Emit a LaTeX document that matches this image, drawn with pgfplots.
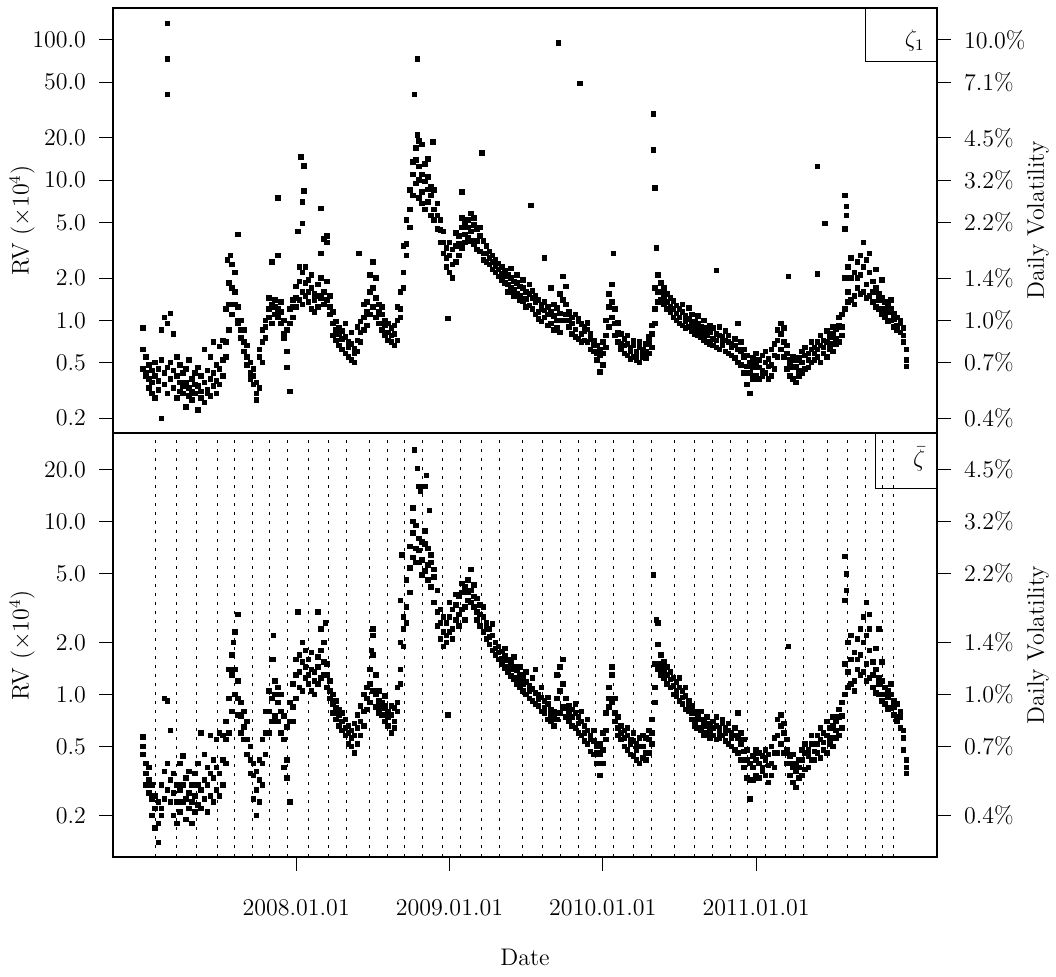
\documentclass[border=0pt]{standalone}
\usepackage{pgfplots}
\pgfplotsset{compat=1.18}
\usepackage{pgfplotstable}

\pgfplotstableread{
t a b c
2007.00 0.62 0.45 0.88
2007.02 0.40 0.55 0.42
2007.04 0.38 0.48 0.33
2007.06 0.30 0.44 0.36
2007.08 0.28 0.40 0.50
2007.10 0.32 0.37 0.45
2007.12 0.20 0.52 0.85
2007.14 0.42 0.35 1.05
2007.16 0.30 0.46 0.95
2007.18 0.38 0.50 1.12
2007.20 0.33 0.44 0.80
2007.22 0.28 0.55 0.40
2007.24 0.36 0.31 0.48
2007.26 0.30 0.42 0.34
2007.28 0.24 0.36 0.45
2007.30 0.33 0.29 0.52
2007.32 0.27 0.38 0.31
2007.34 0.35 0.30 0.42
2007.36 0.23 0.34 0.46
2007.38 0.31 0.40 0.28
2007.40 0.26 0.36 0.62
2007.42 0.32 0.44 0.30
2007.44 0.29 0.38 0.55
2007.46 0.34 0.42 0.70
2007.48 0.30 0.37 0.48
2007.50 0.35 0.45 0.65
2007.52 0.40 0.52 0.72
2007.54 0.55 0.70 1.20
2007.56 0.85 1.30 1.85
2007.58 1.10 1.70 2.50
2007.60 1.30 2.20 1.60
2007.62 0.95 1.25 1.00
2007.64 0.85 0.75 1.00
2007.66 0.70 0.60 0.85
2007.68 0.55 0.48 0.66
2007.70 0.42 0.50 0.38
2007.72 0.35 0.45 0.40
2007.74 0.30 0.27 0.36
2007.76 0.33 0.55 0.62
2007.78 0.50 0.70 0.85
2007.80 0.75 1.00 0.90
2007.82 1.05 1.20 1.45
2007.84 0.95 1.30 2.60
2007.86 1.10 1.40 1.25
2007.88 1.20 1.05 2.90
2007.90 0.95 1.15 1.35
2007.92 0.80 0.75 1.00
2007.94 0.46 0.85 0.60
2007.96 0.31 0.95 1.20
2007.98 1.05 1.40 1.25
2008.00 1.25 1.75 1.45
2008.02 1.90 1.40 2.40
2008.04 1.60 2.20 1.30
2008.06 2.40 1.50 1.85
2008.08 1.35 1.95 1.60
2008.10 1.70 1.20 2.10
2008.12 1.15 1.55 1.40
2008.14 1.80 1.25 1.50
2008.16 1.45 2.00 3.00
2008.18 1.60 1.30 3.80
2008.20 1.90 1.40 3.60
2008.22 1.10 1.50 1.25
2008.24 0.95 0.78 1.15
2008.26 0.72 0.98 0.85
2008.28 0.88 0.66 0.80
2008.30 0.62 0.84 0.74
2008.32 0.76 0.58 0.95
2008.34 0.55 0.70 0.64
2008.36 0.68 0.52 0.82
2008.38 0.50 0.63 0.58
2008.40 0.72 0.60 0.90
2008.42 0.82 0.98 0.70
2008.44 1.05 0.85 1.30
2008.46 0.92 1.35 1.15
2008.48 1.60 1.10 2.10
2008.50 1.25 2.60 1.70
2008.52 1.45 1.05 2.00
2008.54 1.30 0.95 1.15
2008.56 0.85 1.10 1.25
2008.58 1.00 0.78 0.92
2008.60 0.82 0.95 0.72
2008.62 0.70 0.88 0.78
2008.64 0.80 0.66 0.92
2008.66 0.72 1.00 1.25
2008.68 1.20 1.60 1.05
2008.70 2.20 1.70 3.40
2008.72 3.50 5.20 2.90
2008.74 6.20 4.60 8.50
2008.76 11.0 7.80 13.5
2008.78 9.50 14.0 17.0
2008.80 12.5 7.50 10.0
2008.82 8.20 11.0 6.80
2008.84 9.80 6.20 13.0
2008.86 7.00 10.5 8.60
2008.88 9.00 5.60 7.80
2008.90 6.20 8.50 5.20
2008.92 4.50 6.80 5.60
2008.94 5.20 3.60 4.40
2008.96 3.00 4.30 3.60
2008.98 2.40 3.30 2.80
2009.00 2.90 2.20 3.60
2009.02 2.50 3.20 2.00
2009.04 3.40 2.60 4.20
2009.06 2.90 4.00 3.50
2009.08 4.60 3.30 5.40
2009.10 3.60 4.90 4.10
2009.12 5.20 3.90 4.60
2009.14 4.30 5.80 3.70
2009.16 4.80 3.50 5.40
2009.18 3.70 4.50 3.20
2009.20 4.00 3.10 4.60
2009.22 3.00 3.70 2.70
2009.24 3.40 2.60 3.00
2009.26 2.50 3.10 2.80
2009.28 2.90 2.30 2.60
2009.30 2.20 2.70 2.45
2009.32 2.55 2.05 2.30
2009.34 1.95 2.40 2.15
2009.36 2.25 1.85 2.05
2009.38 1.80 2.10 1.60
2009.40 2.00 1.70 2.35
2009.42 1.65 1.90 1.50
2009.44 1.85 1.55 2.10
2009.46 1.50 1.75 1.40
2009.48 1.70 1.38 1.95
2009.50 1.42 1.60 1.25
2009.52 1.55 1.28 1.80
2009.54 1.20 1.45 1.62
2009.56 1.35 1.10 1.50
2009.58 1.15 1.40 1.02
2009.60 1.30 0.98 1.20
2009.62 1.05 1.35 1.18
2009.64 1.25 0.92 1.10
2009.66 0.95 1.15 1.70
2009.68 1.08 0.85 1.30
2009.70 0.88 1.22 1.00
2009.72 1.12 0.82 1.55
2009.74 1.40 2.05 1.00
2009.76 1.75 1.10 1.30
2009.78 0.90 1.15 1.00
2009.80 1.05 0.80 0.95
2009.82 0.86 1.10 0.76
2009.84 0.98 0.74 1.02
2009.86 0.80 0.94 0.70
2009.88 0.90 0.72 0.84
2009.90 0.70 0.86 0.96
2009.92 0.80 0.62 0.74
2009.94 0.60 0.72 0.66
2009.96 0.66 0.52 0.58
2009.98 0.43 0.56 0.62
2010.00 0.58 0.48 0.70
2010.02 0.78 0.64 1.00
2010.04 1.25 0.90 1.55
2010.06 1.05 1.80 1.35
2010.08 0.95 0.78 1.20
2010.10 0.82 0.70 0.96
2010.12 0.68 0.80 0.62
2010.14 0.74 0.58 0.66
2010.16 0.56 0.68 0.78
2010.18 0.64 0.53 0.60
2010.20 0.55 0.66 0.72
2010.22 0.60 0.52 0.57
2010.24 0.50 0.64 0.70
2010.26 0.62 0.55 0.58
2010.28 0.54 0.68 0.60
2010.30 0.70 0.58 0.76
2010.32 0.64 0.80 0.92
2010.34 1.20 1.70 0.95
2010.36 1.60 2.10 1.35
2010.38 1.85 1.40 1.60
2010.40 1.30 1.70 1.50
2010.42 1.55 1.20 1.35
2010.44 1.15 1.45 1.25
2010.46 1.38 1.05 1.20
2010.48 1.00 1.28 1.12
2010.50 1.20 0.95 1.05
2010.52 0.92 1.15 1.30
2010.54 1.08 0.88 0.98
2010.56 0.90 1.02 1.22
2010.58 1.10 0.84 0.94
2010.60 0.80 0.98 0.88
2010.62 0.95 0.78 1.08
2010.64 0.76 0.90 0.82
2010.66 0.88 0.72 1.00
2010.68 0.70 0.85 0.78
2010.70 0.82 0.68 0.92
2010.72 0.74 0.88 0.66
2010.74 0.64 0.80 0.72
2010.76 0.78 0.62 0.90
2010.78 0.66 0.76 0.70
2010.80 0.72 0.60 0.84
2010.82 0.58 0.70 0.78
2010.84 0.68 0.56 0.64
2010.86 0.54 0.66 0.74
2010.88 0.62 0.50 0.95
2010.90 0.48 0.60 0.70
2010.92 0.42 0.55 0.62
2010.94 0.35 0.47 0.56
2010.96 0.30 0.42 0.50
2010.98 0.46 0.38 0.54
2011.00 0.40 0.50 0.58
2011.02 0.52 0.38 0.46
2011.04 0.44 0.56 0.40
2011.06 0.50 0.42 0.60
2011.08 0.38 0.47 0.53
2011.10 0.48 0.40 0.62
2011.12 0.56 0.45 0.68
2011.14 0.72 0.55 0.85
2011.16 0.62 0.80 0.95
2011.18 0.70 0.55 0.88
2011.20 0.45 0.58 0.66
2011.22 0.52 0.40 0.48
2011.24 0.38 0.46 0.55
2011.26 0.47 0.36 0.52
2011.28 0.40 0.54 0.44
2011.30 0.50 0.42 0.60
2011.32 0.45 0.56 0.64
2011.34 0.58 0.46 0.52
2011.36 0.50 0.62 0.70
2011.38 0.64 0.52 0.58
2011.40 0.55 0.70 0.62
2011.42 0.66 0.50 0.78
2011.44 0.58 0.72 0.64
2011.46 0.70 0.55 0.84
2011.48 0.62 0.76 0.68
2011.50 0.80 0.60 0.90
2011.52 0.68 0.86 0.74
2011.54 0.92 0.70 1.05
2011.56 0.78 1.10 0.90
2011.58 1.20 2.00 4.50
2011.60 1.60 2.40 1.35
2011.62 2.00 1.40 2.80
2011.64 1.50 2.20 1.30
2011.66 2.60 1.70 2.00
2011.68 1.55 2.90 2.10
2011.70 2.40 1.60 3.60
2011.72 1.80 2.70 1.45
2011.74 2.20 1.50 3.00
2011.76 1.35 1.90 1.60
2011.78 1.70 1.25 2.30
2011.80 1.20 1.55 1.40
2011.82 1.45 1.10 1.95
2011.84 1.05 1.35 1.20
2011.86 1.30 0.98 1.15
2011.88 1.00 1.20 1.40
2011.90 1.12 0.90 1.02
2011.92 0.92 1.05 0.85
2011.94 1.00 0.82 0.95
2011.96 0.70 0.88 0.78
2011.98 0.47 0.52 0.62
}\topdata

\pgfplotstableread{
t v
2007.16 131
2007.16 73
2007.16 41
2007.62 4.1
2007.55 2.7
2007.57 2.9
2007.88 7.5
2008.04 7.0
2008.01 4.3
2008.04 4.9
2008.03 14.6
2008.05 12.6
2008.05 8.4
2008.16 6.3
2008.20 4.0
2008.41 3.0
2008.77 41
2008.79 73
2008.80 19
2008.79 21
2008.82 18
2008.89 18.8
2008.86 14.2
2008.99 1.03
2009.08 8.2
2009.21 15.6
2009.53 6.6
2009.62 2.8
2009.71 95
2009.85 49
2010.07 3.0
2010.33 29.8
2010.33 16.5
2010.34 8.8
2010.35 3.3
2010.74 2.27
2011.21 2.05
2011.40 12.5
2011.45 4.9
2011.40 2.15
2011.58 7.8
2011.59 6.5
2011.59 5.6
}\topout

\pgfplotstableread{
t a b c
2007.00 0.45 0.57 0.50
2007.02 0.35 0.40 0.30
2007.04 0.27 0.32 0.38
2007.06 0.20 0.25 0.30
2007.08 0.17 0.22 0.26
2007.10 0.14 0.18 0.24
2007.12 0.22 0.30 0.20
2007.14 0.25 0.36 0.95
2007.16 0.28 0.40 0.92
2007.18 0.24 0.32 0.62
2007.20 0.20 0.27 0.35
2007.22 0.18 0.24 0.30
2007.24 0.21 0.28 0.40
2007.26 0.24 0.30 0.44
2007.28 0.19 0.25 0.33
2007.30 0.22 0.27 0.36
2007.32 0.18 0.24 0.30
2007.34 0.21 0.26 0.35
2007.36 0.23 0.30 0.40
2007.38 0.22 0.28 0.60
2007.40 0.25 0.32 0.45
2007.42 0.21 0.30 0.38
2007.44 0.26 0.35 0.58
2007.46 0.24 0.33 0.42
2007.48 0.28 0.38 0.55
2007.50 0.26 0.35 0.60
2007.52 0.30 0.42 0.58
2007.54 0.40 0.55 0.70
2007.56 0.60 0.95 1.40
2007.58 0.80 1.30 1.70
2007.60 1.00 1.40 2.30
2007.62 0.76 0.95 1.20
2007.64 0.60 0.75 0.90
2007.66 0.55 0.65 0.80
2007.68 0.45 0.55 0.70
2007.70 0.35 0.42 0.50
2007.72 0.25 0.34 0.40
2007.74 0.20 0.28 0.36
2007.76 0.24 0.32 0.42
2007.78 0.30 0.40 0.55
2007.80 0.45 0.60 0.80
2007.82 0.60 0.80 1.05
2007.84 0.70 0.95 1.60
2007.86 0.75 1.00 1.20
2007.88 0.70 0.90 1.10
2007.90 0.60 0.80 1.00
2007.92 0.38 0.55 0.75
2007.94 0.33 0.42 0.65
2007.96 0.24 0.70 0.90
2007.98 0.85 1.15 0.70
2008.00 1.30 0.95 1.60
2008.02 1.10 1.70 1.35
2008.04 1.55 1.05 2.00
2008.06 1.25 1.80 1.45
2008.08 1.60 1.15 1.30
2008.10 1.05 1.40 1.75
2008.12 1.35 1.00 1.20
2008.14 1.15 1.65 1.45
2008.16 1.80 1.25 2.40
2008.18 1.30 1.55 2.00
2008.20 1.50 1.10 1.30
2008.22 0.95 1.20 1.05
2008.24 0.78 1.00 0.88
2008.26 0.92 0.72 0.84
2008.28 0.66 0.82 0.76
2008.30 0.78 0.62 0.70
2008.32 0.58 0.72 0.64
2008.34 0.66 0.52 0.60
2008.36 0.50 0.62 0.56
2008.38 0.58 0.46 0.68
2008.40 0.52 0.64 0.76
2008.42 0.70 0.58 0.86
2008.44 0.80 0.66 1.00
2008.46 1.10 0.82 0.95
2008.48 0.90 1.40 1.15
2008.50 1.70 1.05 2.20
2008.52 1.00 1.30 0.85
2008.54 0.92 0.78 1.05
2008.56 0.76 0.90 0.84
2008.58 0.86 0.70 0.98
2008.60 0.66 0.80 0.74
2008.62 0.76 0.60 0.86
2008.64 0.70 0.84 0.64
2008.66 0.90 1.10 0.80
2008.68 1.40 1.15 2.00
2008.70 2.80 1.90 2.40
2008.72 3.20 4.60 2.60
2008.74 5.40 3.90 7.20
2008.76 8.60 6.20 10.0
2008.78 7.00 9.50 5.80
2008.80 8.00 5.80 6.80
2008.82 6.00 7.60 4.90
2008.84 7.40 5.20 8.80
2008.86 5.60 7.00 4.60
2008.88 4.20 5.80 6.40
2008.90 4.80 3.40 5.30
2008.92 3.00 4.00 2.50
2008.94 2.60 2.10 3.10
2008.96 2.30 2.80 1.90
2008.98 2.00 2.60 2.20
2009.00 2.80 2.30 3.40
2009.02 2.40 3.10 2.10
2009.04 3.30 2.70 3.80
2009.06 2.90 3.70 2.50
2009.08 3.90 3.10 4.40
2009.10 3.20 4.20 2.70
2009.12 4.60 3.50 3.90
2009.14 3.40 5.30 4.00
2009.16 4.30 3.20 3.70
2009.18 3.00 3.60 2.70
2009.20 3.30 2.50 2.90
2009.22 2.30 2.80 3.20
2009.24 2.60 2.10 2.40
2009.26 1.95 2.40 2.15
2009.28 2.20 1.80 2.55
2009.30 1.70 2.00 1.85
2009.32 1.90 1.60 1.75
2009.34 1.50 1.78 1.62
2009.36 1.68 1.42 1.85
2009.38 1.35 1.58 1.45
2009.40 1.52 1.28 1.40
2009.42 1.22 1.45 1.65
2009.44 1.38 1.15 1.25
2009.46 1.10 1.30 1.45
2009.48 1.25 1.05 1.15
2009.50 1.00 1.18 1.35
2009.52 1.12 0.95 1.05
2009.54 0.92 1.08 1.25
2009.56 1.02 0.88 1.40
2009.58 0.86 1.00 0.94
2009.60 0.96 0.80 1.10
2009.62 0.78 0.92 0.84
2009.64 0.88 0.72 0.96
2009.66 0.70 0.82 0.76
2009.68 0.80 0.66 0.74
2009.70 0.72 0.95 1.30
2009.72 1.05 0.78 1.45
2009.74 0.85 1.15 1.60
2009.76 0.95 0.74 0.84
2009.78 0.70 0.86 0.78
2009.80 0.82 0.66 0.74
2009.82 0.64 0.78 0.88
2009.84 0.74 0.60 0.68
2009.86 0.58 0.70 0.80
2009.88 0.66 0.54 0.60
2009.90 0.52 0.62 0.72
2009.92 0.58 0.47 0.55
2009.94 0.45 0.54 0.62
2009.96 0.50 0.40 0.46
2009.98 0.34 0.45 0.52
2010.00 0.48 0.40 0.60
2010.02 0.62 0.78 0.55
2010.04 0.85 1.10 0.95
2010.06 1.30 0.90 1.45
2010.08 0.78 0.95 0.70
2010.10 0.64 0.74 0.58
2010.12 0.55 0.66 0.60
2010.14 0.62 0.50 0.56
2010.16 0.48 0.58 0.64
2010.18 0.55 0.45 0.52
2010.20 0.44 0.54 0.60
2010.22 0.52 0.42 0.48
2010.24 0.40 0.50 0.56
2010.26 0.50 0.43 0.58
2010.28 0.46 0.56 0.42
2010.30 0.55 0.46 0.62
2010.32 0.60 0.72 0.52
2010.34 1.10 1.50 0.90
2010.36 1.40 1.95 2.60
2010.38 1.70 1.30 1.50
2010.40 1.25 1.55 1.40
2010.42 1.45 1.15 1.30
2010.44 1.10 1.35 1.22
2010.46 1.25 1.00 1.12
2010.48 0.98 1.18 1.05
2010.50 1.10 0.92 1.25
2010.52 0.88 1.05 0.96
2010.54 0.98 0.82 1.10
2010.56 0.80 0.92 0.86
2010.58 0.86 0.72 0.78
2010.60 0.70 0.80 0.66
2010.62 0.76 0.64 0.72
2010.64 0.62 0.72 0.80
2010.66 0.70 0.58 0.66
2010.68 0.60 0.68 0.74
2010.70 0.66 0.56 0.62
2010.72 0.58 0.70 0.64
2010.74 0.66 0.55 0.74
2010.76 0.56 0.64 0.60
2010.78 0.68 0.58 0.72
2010.80 0.54 0.64 0.60
2010.82 0.62 0.52 0.68
2010.84 0.50 0.60 0.56
2010.86 0.58 0.48 0.64
2010.88 0.46 0.56 0.78
2010.90 0.52 0.42 0.60
2010.92 0.38 0.47 0.55
2010.94 0.33 0.42 0.48
2010.96 0.25 0.32 0.40
2010.98 0.38 0.32 0.44
2011.00 0.34 0.42 0.48
2011.02 0.40 0.33 0.46
2011.04 0.36 0.44 0.38
2011.06 0.42 0.34 0.48
2011.08 0.31 0.39 0.45
2011.10 0.40 0.34 0.50
2011.12 0.46 0.38 0.56
2011.14 0.58 0.46 0.72
2011.16 0.52 0.66 0.76
2011.18 0.60 0.46 0.68
2011.20 0.40 0.48 0.55
2011.22 0.44 0.34 0.40
2011.24 0.31 0.38 0.45
2011.26 0.40 0.29 0.36
2011.28 0.33 0.42 0.38
2011.30 0.42 0.34 0.48
2011.32 0.37 0.46 0.52
2011.34 0.48 0.38 0.44
2011.36 0.42 0.52 0.58
2011.38 0.52 0.42 0.47
2011.40 0.46 0.58 0.52
2011.42 0.55 0.43 0.64
2011.44 0.48 0.60 0.53
2011.46 0.58 0.46 0.70
2011.48 0.52 0.64 0.56
2011.50 0.66 0.50 0.74
2011.52 0.56 0.70 0.62
2011.54 0.74 0.58 0.82
2011.56 0.64 0.90 0.75
2011.58 1.00 1.50 3.50
2011.60 1.35 2.00 1.10
2011.62 1.60 1.15 2.20
2011.64 1.20 1.75 1.05
2011.66 2.10 1.40 1.60
2011.68 1.30 2.40 1.70
2011.70 2.00 1.35 2.80
2011.72 1.50 2.20 1.20
2011.74 1.80 1.25 2.40
2011.76 1.10 1.55 1.30
2011.78 1.40 1.02 1.85
2011.80 1.00 1.25 1.15
2011.82 1.20 0.92 1.55
2011.84 0.88 1.10 1.00
2011.86 1.05 0.82 0.96
2011.88 0.84 1.00 1.15
2011.90 0.92 0.76 0.85
2011.92 0.74 0.88 0.70
2011.94 0.80 0.64 0.74
2011.96 0.48 0.62 0.56
2011.98 0.35 0.38 0.42
}\botdata

\pgfplotstableread{
t v
2007.62 2.9
2007.59 2.0
2007.85 2.2
2007.85 1.6
2008.01 3.0
2008.14 3.0
2008.19 2.6
2008.50 2.4
2008.49 1.8
2008.68 3.5
2008.69 6.4
2008.77 26
2008.79 20.3
2008.80 16
2008.81 15
2008.85 18.5
2008.84 16
2008.87 11.6
2008.76 12
2008.99 0.76
2010.33 4.9
2010.35 2.7
2011.21 1.9
2011.58 6.3
2011.59 5.0
2011.59 4.0
2011.72 3.4
2011.74 2.9
2011.80 2.4
}\botout

\pgfplotsset{
  rvbase/.style={
    scale only axis, width=412pt,
    xmin=2006.805, xmax=2012.18,
    tick align=outside, major tick length=7pt,
    tick style={black, line width=0.5pt},
    axis line style={line width=0.6pt},
    tick label style={font=\fontsize{12}{14}\selectfont},
    label style={font=\fontsize{12}{14}\selectfont},
    yminorticks=false, xminorticks=false,
  },
  rvpts/.style={only marks, mark=square*, mark size=1.15pt,
    mark options={draw=none, fill=black}},
}

\begin{document}
\begin{tikzpicture}
% ---------------- top panel ----------------
\begin{axis}[rvbase, name=top, ymode=log,
  height=212.5pt, ymin=0.157, ymax=169,
  ytick={0.2,0.5,1,2,5,10,20,50,100},
  xtick=\empty, ytick pos=left,
  yticklabels={0.2,0.5,1.0,2.0,5.0,10.0,20.0,50.0,100.0},
  yticklabel style={xshift=-3pt},
  ylabel={RV ($\times10^4$)},
  ylabel style={at={(axis description cs:-0.1104,0.5)}, anchor=center},
]
\addplot[rvpts] table[x=t, y=a] {\topdata};
\addplot[rvpts] table[x=t, y=b] {\topdata};
\addplot[rvpts] table[x=t, y=c] {\topdata};
\addplot[rvpts] table[x=t, y=v] {\topout};
\draw[line width=0.5pt] (rel axis cs:0.9138,0.873) rectangle (rel axis cs:1,1);
\node[anchor=base east, font=\fontsize{12}{14}\selectfont, inner sep=0pt]
  at (rel axis cs:0.9854,0.909) {$\zeta_1$};
\end{axis}
\begin{axis}[rvbase, at={(top.south west)}, anchor=south west, ymode=log,
  height=212.5pt, ymin=0.157, ymax=169,
  ytick={0.2,0.5,1,2,5,10,20,50,100},
  axis x line=none, axis y line*=right,
  yticklabels={0.4\%,0.7\%,1.0\%,1.4\%,2.2\%,3.2\%,4.5\%,7.1\%,10.0\%},
  yticklabel style={xshift=3pt},
  ylabel={Daily Volatility},
  ylabel style={at={(axis description cs:1.1226,0.5)}, anchor=center},
]
\addplot[draw=none, forget plot] coordinates {(2007,1)};
\end{axis}
% ---------------- bottom panel ----------------
\begin{axis}[rvbase, name=bot, at={(top.south west)}, anchor=north west, ymode=log,
  height=212pt, ymin=0.115, ymax=32.5,
  ytick={0.2,0.5,1,2,5,10,20},
  xtick={2008,2009,2010,2011},
  xticklabels={2008.01.01,2009.01.01,2010.01.01,2011.01.01},
  xtick pos=bottom, ytick pos=left,
  xticklabel style={yshift=-10.5pt},
  yticklabels={0.2,0.5,1.0,2.0,5.0,10.0,20.0},
  yticklabel style={xshift=-3pt},
  ylabel={RV ($\times10^4$)},
  ylabel style={at={(axis description cs:-0.1104,0.5)}, anchor=center},
  xlabel={Date},
  xlabel style={at={(axis description cs:0.5,-0.238)}, anchor=center},
  extra x ticks={2007.085,2007.219,2007.352,2007.489,2007.598,2007.715,2007.828,2007.941,
    2008.080,2008.211,2008.328,2008.481,2008.594,2008.706,2008.824,2008.957,
    2009.074,2009.209,2009.324,2009.476,2009.609,2009.724,2009.840,2009.955,
    2010.070,2010.203,2010.318,2010.470,2010.601,2010.716,2010.833,2010.944,
    2011.064,2011.194,2011.312,2011.464,2011.596,2011.712,2011.823,2011.896},
  extra x tick labels={},
  extra x tick style={grid=major, major tick length=0pt,
    major grid style={black, line width=0.5pt, dash pattern=on 1.6pt off 2.9pt}},
]
\addplot[rvpts] table[x=t, y=a] {\botdata};
\addplot[rvpts] table[x=t, y=b] {\botdata};
\addplot[rvpts] table[x=t, y=c] {\botdata};
\addplot[rvpts] table[x=t, y=v] {\botout};
\draw[line width=0.5pt] (rel axis cs:0.9248,0.870) rectangle (rel axis cs:1,1);
\node[anchor=base east, font=\fontsize{12}{14}\selectfont, inner sep=0pt]
  at (rel axis cs:0.9863,0.9205) {$\bar{\zeta}$};
\end{axis}
\begin{axis}[rvbase, at={(bot.south west)}, anchor=south west, ymode=log,
  height=212pt, ymin=0.115, ymax=32.5,
  ytick={0.2,0.5,1,2,5,10,20},
  axis x line=none, axis y line*=right,
  yticklabels={0.4\%,0.7\%,1.0\%,1.4\%,2.2\%,3.2\%,4.5\%},
  yticklabel style={xshift=3pt},
  ylabel={Daily Volatility},
  ylabel style={at={(axis description cs:1.1226,0.5)}, anchor=center},
]
\addplot[draw=none, forget plot] coordinates {(2007,1)};
\end{axis}
\path ([xshift=-56.5pt, yshift=4pt]top.north west) rectangle ([xshift=59.5pt, yshift=-60pt]bot.south east);
\end{tikzpicture}
\end{document}
